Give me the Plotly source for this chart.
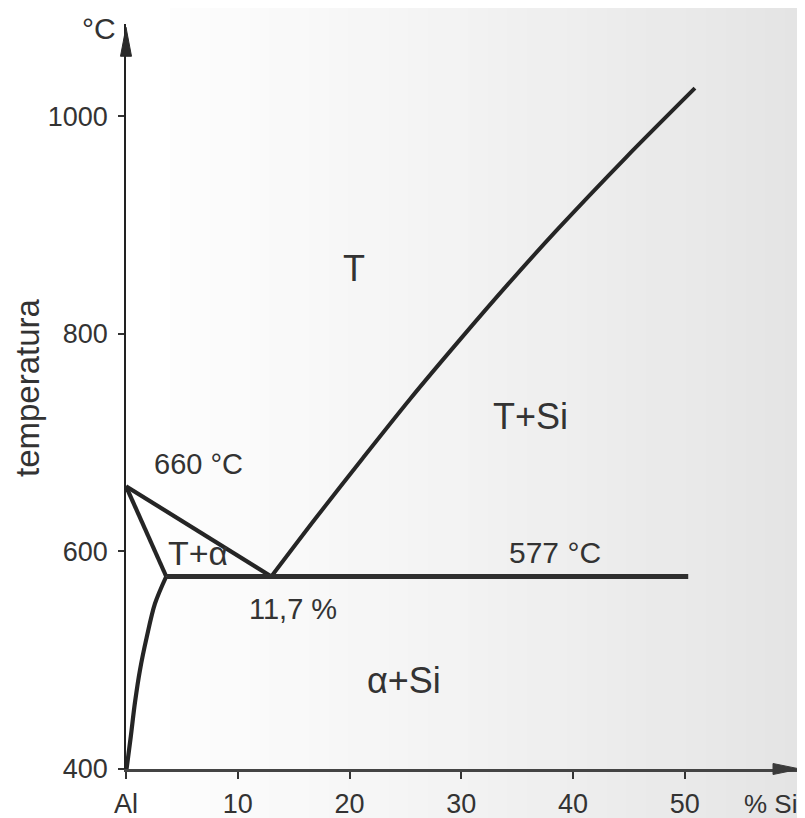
import plotly.graph_objects as go

# ---------------- data (projected onto the bottom scale) ----------------
# liquidus, Al side: 660 °C at pure Al down to the eutectic
liq_al_x = [0.0, 13.0]
liq_al_t = [660, 577]
# solidus of alpha
sol_x = [0.0, 3.6]
sol_t = [660, 577]
# solvus of alpha
solvus_x = [3.6, 2.59, 1.85, 1.25, 0.8, 0.43, 0.05]
solvus_t = [577, 552, 521, 491, 461, 430, 400]
# liquidus, Si side
liq_si_x = [13.0, 17.0, 21.2, 25.4, 29.9, 34.2, 38.5, 44.7, 50.9]
liq_si_t = [577, 631, 686, 740, 795, 846, 895, 962, 1026]
# eutectic isotherm
eut_x = [3.6, 50.3]
eut_t = [577, 577]

x_tick_vals = [0, 10, 20, 30, 40, 50]
x_tick_text = ["Al", "10", "20", "30", "40", "50"]
y_tick_vals = [400, 600, 800, 1000]
y_tick_text = ["400", "600", "800", "1000"]

X_RANGE = [0, 60.3]
Y_RANGE = [400, 1085]
Y_ARROW_TIP = 1082

FONT = "Liberation Sans, Arial, sans-serif"
TXT = "#333333"
LINE = "#252525"

# page offset (browser body margin) compensation
OFF = 8
L, R, T, B = 126 - OFF, 5 + OFF, 24 - OFF, 49 + OFF
PW = 805 - L - R
PH = 818 - T - B

def px_to_paper(wx, wy):
    """window pixel -> paper coords"""
    return (wx - OFF - L) / PW, (818 - B - (wy - OFF)) / PH

fig = go.Figure()

def curve(x, y, w=4.2, color=LINE, shape="linear", smoothing=0.8):
    fig.add_trace(go.Scatter(x=x, y=y, mode="lines",
                             line=dict(color=color, width=w, shape=shape, smoothing=smoothing),
                             hoverinfo="skip", showlegend=False))

curve(liq_al_x, liq_al_t)
curve(sol_x, sol_t)
curve(solvus_x, solvus_t, shape="spline", smoothing=0.9)
curve(liq_si_x, liq_si_t, w=4.0, shape="spline", smoothing=0.8)
curve(eut_x, eut_t, w=5, color="#2e2e2e")

# ---------------- labels ----------------
labels = [
    ("T", 20.4, 860, 36),
    ("T+Si", 36.2, 724, 36),
    ("660 °C", 6.5, 680, 29),
    ("T+α", 6.4, 599, 34),
    ("577 °C", 38.4, 599, 30),
    ("11,7 %", 14.9, 547, 29),
    ("α+Si", 24.9, 481, 36),
]
for text, x, y, size in labels:
    fig.add_annotation(x=x, y=y, text=text, showarrow=False,
                       xanchor="center", yanchor="middle",
                       font=dict(family=FONT, size=size, color=TXT))

# axis unit labels (outside the plot area -> paper coordinates)
xp, yp = px_to_paper(99, 29)
fig.add_annotation(x=xp, y=yp, xref="paper", yref="paper", text="°C", showarrow=False,
                   xanchor="center", yanchor="middle",
                   font=dict(family=FONT, size=30, color=TXT))
xp, yp = px_to_paper(770, 804)
fig.add_annotation(x=xp, y=yp, xref="paper", yref="paper", text="% Si", showarrow=False,
                   xanchor="center", yanchor="middle",
                   font=dict(family=FONT, size=26, color=TXT))
xp, yp = px_to_paper(27, 388)
fig.add_annotation(x=xp, y=yp, xref="paper", yref="paper", text="temperatura", showarrow=False,
                   textangle=-90, xanchor="center", yanchor="middle",
                   font=dict(family=FONT, size=33, color=TXT))

# ---------------- arrow heads (pixel-sized, anchored on axis ends, not clipped) ----------------
ya = (Y_ARROW_TIP - Y_RANGE[0]) / (Y_RANGE[1] - Y_RANGE[0])
fig.add_shape(type="path", xref="paper", yref="paper", xsizemode="pixel", ysizemode="pixel",
              xanchor=0, yanchor=ya,
              path="M 0,0 L -5.5,-29 L 5.5,-29 Z",
              fillcolor="#2a2a2a", line=dict(color="#2a2a2a", width=1))
fig.add_shape(type="path", xref="paper", yref="paper", xsizemode="pixel", ysizemode="pixel",
              xanchor=1, yanchor=0,
              path="M 0,0 L -27,5.5 L -27,-5.5 Z",
              fillcolor="#3a3a3a", line=dict(color="#3a3a3a", width=1))

# ---------------- paper-like background shading ----------------
n = 32
for i in range(n):
    w0 = 170 + i * (805 - 170) / n
    w1 = 170 + (i + 1) * (805 - 170) / n + 1
    g = int(round(253 - 25 * ((i + 0.5) / n) ** 1.1))
    x0, _ = px_to_paper(w0, 0)
    x1, _ = px_to_paper(w1, 0)
    fig.add_shape(type="rect", xref="paper", yref="paper",
                  x0=x0, x1=x1, y0=-0.2, y1=1.2,
                  fillcolor=f"rgb({g},{g},{g})", line=dict(width=0), layer="below")

fig.update_layout(
    width=805, height=818,
    margin=dict(l=L, r=R, t=T, b=B, autoexpand=False),
    paper_bgcolor="white", plot_bgcolor="rgba(0,0,0,0)",
    font=dict(family=FONT, color=TXT),
    xaxis=dict(range=X_RANGE, tickvals=x_tick_vals, ticktext=x_tick_text,
               showgrid=False, zeroline=False, showline=True, linecolor="#444444",
               linewidth=2.5, ticks="outside", ticklen=7, tickwidth=2, tickcolor="#333333",
               ticklabelstandoff=2, tickfont=dict(family=FONT, size=27, color=TXT)),
    yaxis=dict(range=Y_RANGE, tickvals=y_tick_vals, ticktext=y_tick_text,
               showgrid=False, zeroline=False, showline=True, linecolor="#222222",
               linewidth=1.6, ticks="outside", ticklen=6, tickwidth=2, tickcolor="#333333",
               ticklabelstandoff=5, tickfont=dict(family=FONT, size=27, color=TXT)),
)

fig.write_html("out.html")
